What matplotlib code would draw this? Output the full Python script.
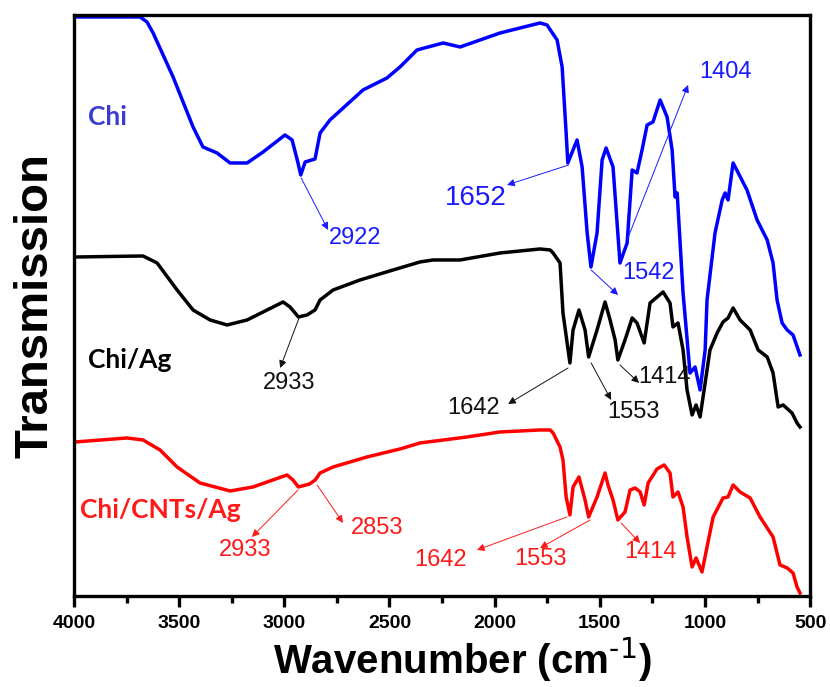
import matplotlib
matplotlib.use("Agg")
import matplotlib.pyplot as plt
import numpy as np

# FTIR spectra (wavenumber cm-1, transmission in arbitrary units)
chi_wn = [3995, 3686, 3653, 3624, 3529, 3434, 3387, 3320, 3258, 3177, 3101, 2997, 2963, 2935,
          2922, 2901, 2854, 2830, 2783, 2626, 2512, 2450, 2369, 2245, 2164, 1974, 1784,
          1751, 1703, 1679, 1660, 1652, 1608, 1584, 1560, 1542, 1513, 1489, 1470, 1437,
          1404, 1370, 1346, 1323, 1299, 1275, 1247, 1213, 1180, 1156, 1142, 1132, 1104,
          1071, 1047, 1023, 999, 990, 952, 918, 904, 890, 866, 800, 752, 704, 676, 657,
          633, 609, 581, 548]
chi_t = [579, 579, 574, 563, 519, 469, 449, 443, 433, 433, 444, 461, 456, 433,
         421, 434, 437, 463, 476, 506, 518, 529, 546, 553, 549, 563, 573,
         571, 556, 529, 463, 433, 456, 429, 363, 329, 363, 436, 448, 429,
         333, 353, 426, 423, 446, 471, 474, 496, 479, 446, 399, 403, 303,
         223, 229, 206, 246, 296, 363, 396, 403, 396, 433, 406, 376, 356, 333, 296,
         273, 266, 261, 241]

ag_wn = [3986, 3672, 3605, 3510, 3434, 3353, 3272, 3177, 3082, 3006, 2973, 2933, 2892,
         2854, 2830, 2768, 2640, 2483, 2355, 2293, 2164, 1974, 1784, 1736, 1722, 1689,
         1675, 1642, 1627, 1599, 1570, 1553, 1513, 1475, 1451, 1427, 1414, 1380, 1346,
         1323, 1289, 1261, 1199, 1166, 1152, 1128, 1104, 1085, 1061, 1042, 1023, 999,
         976, 942, 914, 890, 866, 833, 785, 747, 704, 676, 652, 628, 586, 562, 548]
ag_t = [339, 340, 333, 306, 286, 276, 271, 276, 286, 294, 289, 279, 281,
        286, 296, 306, 316, 326, 334, 336, 336, 343, 347, 346, 343, 333,
        283, 233, 266, 286, 266, 239, 266, 294, 276, 256, 236, 256, 278,
        273, 253, 293, 304, 293, 269, 273, 246, 206, 181, 191, 179, 213,
        246, 263, 274, 278, 288, 276, 266, 246, 239, 223, 189, 191, 183, 173, 169]

cnt_wn = [3995, 3748, 3672, 3591, 3510, 3401, 3258, 3149, 2987, 2959, 2933, 2880, 2853,
          2830, 2768, 2607, 2450, 2355, 2131, 1974, 1784, 1736, 1722, 1689, 1675, 1660,
          1642, 1627, 1599, 1570, 1553, 1513, 1475, 1461, 1437, 1414, 1380, 1356, 1332,
          1308, 1289, 1270, 1228, 1194, 1166, 1152, 1128, 1104, 1085, 1061, 1042, 1014,
          990, 961, 914, 890, 866, 833, 785, 738, 676, 643, 609, 581, 562, 548]
cnt_t = [154, 158, 156, 146, 129, 113, 105, 109, 121, 116, 109, 112, 116,
         123, 129, 139, 147, 153, 159, 164, 166, 166, 163, 149, 136, 99,
         81, 109, 119, 96, 79, 99, 123, 111, 96, 76, 84, 106, 108,
         104, 91, 113, 127, 131, 123, 99, 104, 89, 59, 29, 38, 24,
         49, 79, 98, 99, 111, 104, 98, 79, 59, 31, 28, 23, 9, 3]

series = [("Chi", chi_wn, chi_t, "#0000ff"),
          ("Chi/Ag", ag_wn, ag_t, "#000000"),
          ("Chi/CNTs/Ag", cnt_wn, cnt_t, "#ff0000")]

# sample labels: text, x, y, colour
sample_labels = [("Chi", 3933, 479, "#3b3bd4"),
                 ("Chi/Ag", 3933, 236, "#000000"),
                 ("Chi/CNTs/Ag", 3971, 86, "#ff1a1a")]

# peak labels: text, peak point, arrow head, text centre, colour, fontsize
peaks = [("2922", (2920, 418), (2792, 366), (2664, 358), "#1a1aff", 17),
         ("1652", (1648, 431), (1941, 411), (2088, 398), "#1a1aff", 20),
         ("1404", (1370, 356), (1080, 511), (904, 524), "#1a1aff", 17),
         ("1542", (1541, 326), (1413, 301), (1270, 323), "#1a1aff", 17),
         ("2933", (2930, 278), (3020, 228), (2978, 213), "#111111", 17),
         ("1642", (1651, 228), (1936, 192), (2098, 188), "#111111", 17),
         ("1553", (1541, 233), (1446, 196), (1342, 184), "#111111", 17),
         ("1414", (1404, 231), (1313, 213), (1194, 219), "#111111", 17),
         ("2933", (2935, 106), (3154, 59), (3187, 46), "#ff1a1a", 17),
         ("2853", (2844, 111), (2721, 73), (2559, 68), "#ff1a1a", 17),
         ("1642", (1656, 79), (2084, 46), (2255, 36), "#ff1a1a", 17),
         ("1553", (1546, 76), (1784, 48), (1784, 37), "#ff1a1a", 17),
         ("1414", (1399, 73), (1308, 53), (1261, 44), "#ff1a1a", 17)]

fig = plt.figure(figsize=(8.3, 6.87), dpi=100)
ax = fig.add_axes([0.0892, 0.1325, 0.8868, 0.8457])

for name, wn, t, c in series:
    ax.plot(wn, t, color=c, lw=2.5, solid_joinstyle="round")

for txt, x, y, c in sample_labels:
    ax.text(x, y, txt, color=c, fontsize=19, fontweight="bold", family="Lato",
            ha="left", va="center")

for txt, tail, head, pos, c, fs in peaks:
    ax.annotate("", xy=head, xytext=tail,
                arrowprops=dict(arrowstyle="-|>", color=c, lw=0.7, mutation_scale=11,
                                shrinkA=0, shrinkB=0))
    ax.text(pos[0], pos[1], txt, color=c, fontsize=fs, family="Liberation Sans",
            ha="center", va="center")

ax.set_xlim(4000, 500)
ax.set_ylim(0, 581)
ax.set_xticks(np.arange(4000, 499, -500))
ax.set_xticks(np.arange(3750, 500, -500), minor=True)
ax.set_yticks([])
for s in ax.spines.values():
    s.set_linewidth(2.4)
ax.tick_params(axis="x", which="major", direction="out", length=8, width=2.4, pad=6)
ax.tick_params(axis="x", which="minor", direction="out", length=5, width=2.4)
for lab in ax.get_xticklabels():
    lab.set_fontsize(14)
    lab.set_fontweight("bold")
    lab.set_family("Liberation Sans")

ax.set_xlabel(r"Wavenumber (cm$^{\mathbf{\text{-1}}}$)", fontsize=29, fontweight="bold",
              family="Liberation Sans")
ax.xaxis.set_label_coords(0.527, -0.068)
ax.set_ylabel("Transmission", fontsize=34, fontweight="bold", family="Liberation Sans")
ax.yaxis.set_label_coords(-0.023, 0.50)

fig.savefig("out.png", dpi=100)
